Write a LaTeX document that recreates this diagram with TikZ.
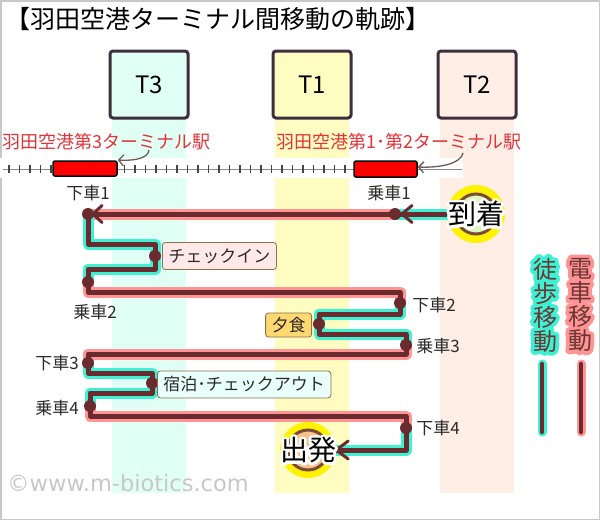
\documentclass[tikz,border=0pt]{standalone}
\usepackage{fontspec}
\setmainfont{Noto Sans CJK JP}
\newfontfamily\wmfont{DejaVu Sans}
\usetikzlibrary{calc,arrows.meta}
\definecolor{framec}{HTML}{C8C8C8}
\definecolor{t3c}{HTML}{E0FFF5}
\definecolor{t1c}{HTML}{FFFCC2}
\definecolor{t2c}{HTML}{FFEEE5}
\definecolor{boxc}{HTML}{3E2E3E}
\definecolor{stred}{HTML}{E0353A}
\definecolor{trackc}{HTML}{8A8A8A}
\definecolor{tickc}{HTML}{444444}
\definecolor{calloutc}{HTML}{6A5A5A}
\definecolor{routec}{HTML}{6B2A2E}
\definecolor{walkc}{HTML}{3DF2D2}
\definecolor{trainc}{HTML}{FF9494}
\definecolor{labc}{HTML}{2A2A2A}
\definecolor{yelc}{HTML}{FFF200}
\definecolor{ringc}{HTML}{7A4A3A}
\definecolor{lgreen}{HTML}{E0F6C0}
\definecolor{lorange}{HTML}{F9C08A}
\definecolor{lboxc}{HTML}{8C6E50}
\definecolor{chkc}{HTML}{FFE8E8}
\definecolor{dinc}{HTML}{FFD870}
\definecolor{innc}{HTML}{E8FFFA}
\definecolor{legc}{HTML}{6E3535}
\definecolor{wmc}{HTML}{C8C8C8}
% outlined text: stroke the glyphs (render mode 1), then restore fill mode
\newcommand{\strokeit}[2]{\special{pdf:literal direct #1 w 1 j 1 J 1 Tr}#2\special{pdf:literal direct 0 Tr}}
\tikzset{
  tbox/.style={draw=boxc, line width=3pt, rounded corners=3pt, minimum width=78pt, minimum height=67pt, inner sep=0pt, font=\fontsize{24}{28}\selectfont},
  trainbox/.style={draw=black, fill=red, line width=1.5pt, rounded corners=2pt, inner sep=0pt},
  stlabel/.style={text=stred, inner sep=0pt, font=\fontsize{18}{20}\selectfont},
  callout/.style={draw=calloutc, line width=1.3pt, -{Straight Barb[length=5pt,width=11pt]}},
  halowalk/.style={draw=walkc, line width=11pt, line cap=round, line join=round},
  halotrain/.style={draw=trainc, line width=11pt, line cap=round, line join=round},
  route/.style={draw=routec, line width=5pt, line join=round},
  dotn/.style={circle, fill=routec, inner sep=0pt, minimum size=12pt},
  arrowv/.style={draw=routec, line width=3pt, line cap=round, line join=round},
  stoplabel/.style={text=labc, inner sep=0pt, font=\fontsize{17}{20}\selectfont},
  lbox/.style={draw=lboxc, line width=0.8pt, rounded corners=3pt, inner xsep=6pt, inner ysep=0pt, text=labc, font=\fontsize{17}{20}\selectfont},
  bigtext/.style={text=black, inner sep=0pt, font=\fontsize{28}{30}\selectfont},
  legend/.style={text=legc, align=center, inner sep=0pt, font=\fontsize{24}{24}\selectfont},
}
\begin{document}
\begin{tikzpicture}[x=1pt,y=-1pt]
\useasboundingbox (0,0) rectangle (600,520);
\fill[white] (0,0) rectangle (600,520);
\draw[framec, line width=1.5pt] (0.75,0.75) rectangle (599.25,519.25);
% title
\node[anchor=west, inner sep=0pt, font=\fontsize{25}{28}\selectfont, text=black] (title) at (5,19) {【羽田空港ターミナル間移動の軌跡】};
% columns
\fill[t3c] (112,118) rectangle (186,493);
\fill[t1c] (275,118) rectangle (349,493);
\fill[t2c] (440,118) rectangle (514,493);
\fill[white] (0,158) rectangle (463,178);
% track
\draw[trackc, line width=0.8pt] (3,169) -- (462,169);
\foreach \x in {9,19.5,...,352} \draw[tickc, line width=1.4pt] (\x,165) -- (\x,173);
\node[trainbox, minimum width=64pt, minimum height=15pt] (tr3) at (85,168.5) {};
\node[trainbox, minimum width=63pt, minimum height=16pt] (tr1) at (385.5,169) {};
% station labels
\node[stlabel, anchor=west] (st3) at (2,142) {羽田空港第3ターミナル駅};
\node[stlabel, anchor=west] (st1) at (276,142) {羽田空港第1･第2ターミナル駅};
\coordinate (c3s) at (149,150);
\coordinate (c1s) at (463,153);
\draw[callout] (c3s) .. controls (148,158) and (136,161) .. (tr3.east |- 0,160);
\draw[callout] (c1s) .. controls (461,163) and (442,168) .. (tr1.east |- 0,167);
% terminal boxes
\node[tbox, fill=t3c] (T3) at (149,84.5) {T3};
\node[tbox, fill=t1c] (T1) at (312,84.5) {T1};
\node[tbox, fill=t2c] (T2) at (477,84.5) {T2};
% points
\coordinate (b1) at (395,214);
\coordinate (a1) at (88,214);
\coordinate (chk) at (155,256);
\coordinate (b2) at (88,282);
\coordinate (a2) at (400,303);
\coordinate (din) at (319,324);
\coordinate (b3) at (406,345);
\coordinate (a3) at (88,363);
\coordinate (inn) at (152,383);
\coordinate (b4) at (90,406);
\coordinate (a4) at (406,428);
\node[circle, fill=yelc, minimum size=58pt, inner sep=0pt] (arr) at (476,214) {};
\node[circle, fill=yelc, minimum size=56pt, inner sep=0pt] (dep) at (308,450) {};
% halos
\draw[halowalk] (arr.west) -- (b1);
\draw[halotrain] (b1) -- (a1);
\draw[halowalk] (a1) -- (88,244) -- (155,244) -- (chk) -- (155,269) -- (88,269) -- (b2);
\draw[halotrain] (b2) -- (88,292) -- (400,292) -- (a2);
\draw[halowalk] (a2) -- (400,314) -- (319,314) -- (din) -- (319,334) -- (406,334) -- (b3);
\draw[halotrain] (b3) -- (406,354) -- (88,354) -- (a3);
\draw[halowalk] (a3) -- (88,373) -- (152,373) -- (inn) -- (152,393) -- (90,393) -- (b4);
\draw[halotrain] (b4) -- (90,416) -- (406,416) -- (a4);
\draw[halowalk] (a4) -- (406,450) -- (dep.east);
% brown route
\draw[route] (arr.west) -- (b1);
\draw[route] (b1) -- (a1);
\draw[route] (a1) -- (88,244) -- (155,244) -- (chk) -- (155,269) -- (88,269) -- (b2);
\draw[route] (b2) -- (88,292) -- (400,292) -- (a2);
\draw[route] (a2) -- (400,314) -- (319,314) -- (din) -- (319,334) -- (406,334) -- (b3);
\draw[route] (b3) -- (406,354) -- (88,354) -- (a3);
\draw[route] (a3) -- (88,373) -- (152,373) -- (inn) -- (152,393) -- (90,393) -- (b4);
\draw[route] (b4) -- (90,416) -- (406,416) -- (a4);
\draw[route] (a4) -- (406,450) -- (dep.east);
% dots
\foreach \p in {b1,a1,chk,b2,a2,din,b3,a3,inn,b4,a4} \node[dotn] (d\p) at (\p) {};
% arrowheads
\draw[arrowv] ($(b1)+(17,-8.5)$) -- ($(b1)+(7,0)$) -- ($(b1)+(17,8.5)$);
\draw[arrowv] ($(a1)+(14,-8.5)$) -- ($(a1)+(5,0)$) -- ($(a1)+(14,8.5)$);
\draw[arrowv] ($(dep.east)+(12,-9)$) -- (dep.east) -- ($(dep.east)+(12,9)$);
% arrival / departure circles
\draw[ringc, line width=3pt, fill=lgreen] (arr) circle (20);
\draw[ringc, line width=3pt, fill=lorange] (dep) circle (20);
\node[bigtext, text=white] (arrhalo) at (arr) {\strokeit{5.5}{到着}};
\node[bigtext] (arrtext) at (arr) {到着};
\node[bigtext, text=white] (dephalo) at (dep) {\strokeit{5.5}{出発}};
\node[bigtext] (deptext) at (dep) {出発};
% stop labels
\node[stoplabel] (l1) at (88,193) {下車1};
\node[stoplabel] (l2) at (389,193) {乗車1};
\node[stoplabel] (l3) at (95,312) {乗車2};
\node[stoplabel] (l4) at (434,305) {下車2};
\node[stoplabel] (l5) at (438,346) {乗車3};
\node[stoplabel] (l6) at (57,363) {下車3};
\node[stoplabel] (l7) at (57,408) {乗車4};
\node[stoplabel] (l8) at (438,428) {下車4};
% activity boxes
\node[lbox, fill=chkc, minimum height=27pt, anchor=west] (bchk) at (162,256) {チェックイン};
\node[lbox, fill=dinc, minimum height=24pt, anchor=east] (bdin) at (312,325) {夕食};
\node[lbox, fill=innc, minimum height=27pt, anchor=west] (binn) at (157,384.5) {宿泊･チェックアウト};
% legend
\node[legend, text=walkc] (lgwh) at (545,305) {\strokeit{7.5}{徒}\\\strokeit{7.5}{歩}\\\strokeit{7.5}{移}\\\strokeit{7.5}{動}};
\node[legend] (lgw) at (545,305) {徒\\歩\\移\\動};
\node[legend, text=trainc] (lgth) at (580,305) {\strokeit{7.5}{電}\\\strokeit{7.5}{車}\\\strokeit{7.5}{移}\\\strokeit{7.5}{動}};
\node[legend] (lgt) at (580,305) {電\\車\\移\\動};
\coordinate (lw1) at (542,364); \coordinate (lw2) at (542,432);
\coordinate (lt1) at (581,364); \coordinate (lt2) at (581,432);
\draw[draw=walkc, line width=9pt, line cap=round] (lw1) -- (lw2);
\draw[draw=routec, line width=4.5pt, line cap=round] (lw1) -- (lw2);
\draw[draw=trainc, line width=9pt, line cap=round] (lt1) -- (lt2);
\draw[draw=routec, line width=4.5pt, line cap=round] (lt1) -- (lt2);
% watermark
\node[anchor=west, inner sep=0pt, text=wmc, font=\wmfont\fontsize{22.5}{24}\selectfont] (wm) at (7,483) {©www.m-biotics.com};
\end{tikzpicture}
\end{document}
